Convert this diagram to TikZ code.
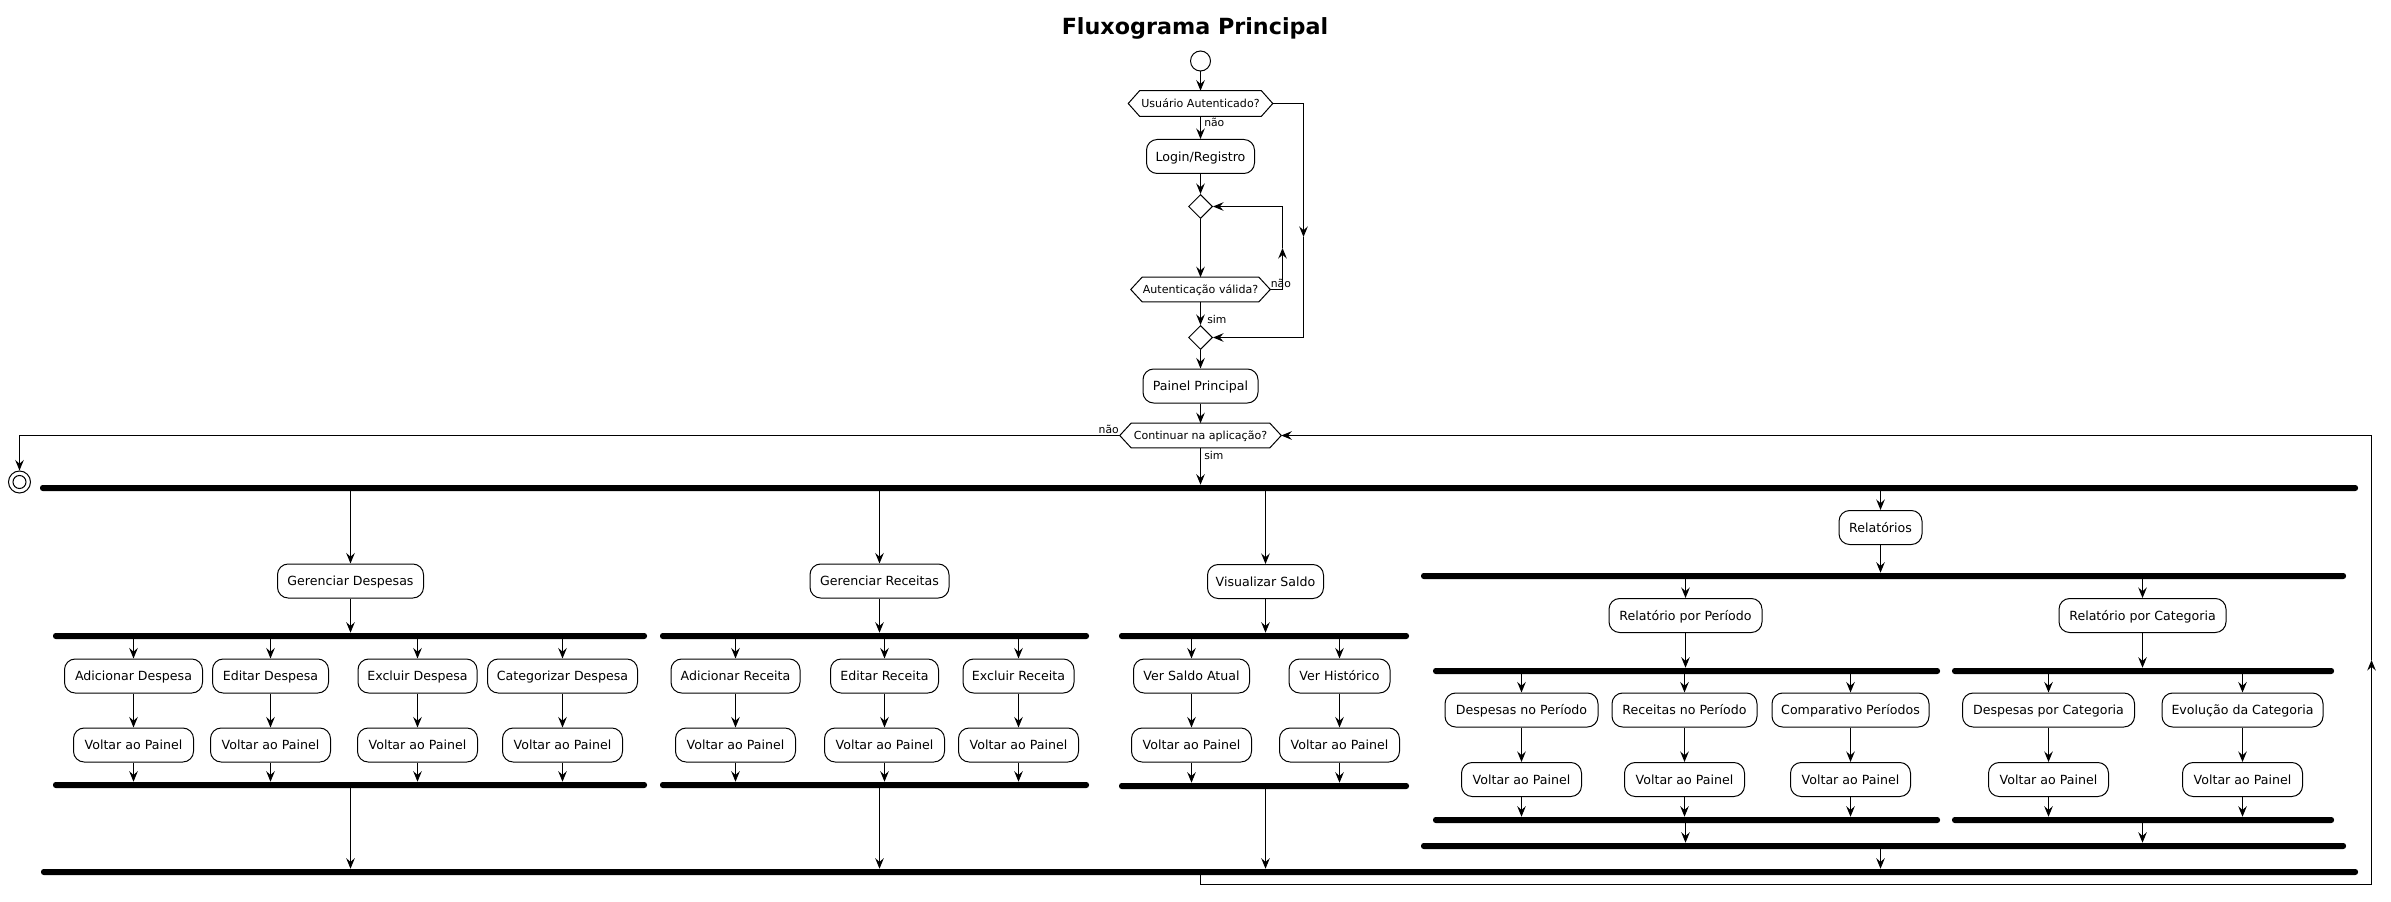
\documentclass[tikz,border=0pt]{standalone}
\usepackage{fontspec}
\setmainfont{DejaVu Sans}
\usetikzlibrary{arrows.meta,shapes.geometric}
\newcommand{\bs}{\rule[-3.1pt]{0pt}{13.1pt}}
\newcommand{\hs}{\rule[-2.97pt]{0pt}{12pt}}
\tikzset{
 ln/.style={line width=0.75pt},
 arr/.style={ln,-{Stealth[length=8pt,width=6.5pt,inset=3pt]}},
 box/.style={draw,ln,rounded corners=8pt,minimum height=25.5pt,inner sep=0pt,font=\fontsize{9.45pt}{11pt}\selectfont,execute at begin node=\bs},
 hexl/.style={inner sep=0pt,font=\fontsize{8.3pt}{10pt}\selectfont,execute at begin node=\hs},
 bar/.style={fill=black,rounded corners=2pt,minimum height=4.5pt,inner sep=0pt},
 lbl/.style={inner sep=0pt,font=\fontsize{8.1pt}{10pt}\selectfont},
 dia/.style={draw,ln,diamond,minimum width=18pt,minimum height=18pt,inner sep=0pt,aspect=1},
}
\newcommand{\hexnode}[5]{%
 \node[hexl,minimum width=#3,minimum height=#4] (#1) at (#2) {#5};
 \draw[ln] (#1.west) -- ([xshift=8.5pt]#1.north west) -- ([xshift=-8.5pt]#1.north east) -- (#1.east) -- ([xshift=-8.5pt]#1.south east) -- ([xshift=8.5pt]#1.south west) -- cycle;}
% name, x, y1, y2, width, text, fork, join
\newcommand{\child}[8]{%
 \node[box,minimum width=#5] (#1) at (#2,#3) {#6};
 \node[box,minimum width=90pt] (v#1) at (#2,#4) {Voltar ao Painel};
 \draw[arr] (#7.south -| #1.north) -- (#1.north);
 \draw[arr] (#1.south) -- (v#1.north);
 \draw[arr] (v#1.south) -- (v#1.south |- #8.north);}
\begin{document}
\begin{tikzpicture}[x=0.75pt,y=-0.75pt]
\useasboundingbox (0,0) rectangle (2391,902);
\node[font=\fontsize{16.7pt}{20pt}\selectfont\bfseries,inner sep=0pt,anchor=base] (title) at (1195,35) {Fluxograma Principal};
% main column
\node[draw,ln,circle,minimum size=15pt,inner sep=0pt] (st) at (1200.5,61) {};
\hexnode{ua}{1200.5,103.5}{108pt}{18.75pt}{Usuário Autenticado?}
\node[box,minimum width=81pt] (login) at (1200.5,156.5) {Login/Registro};
\node[dia] (d1) at (1200.5,206.5) {};
\hexnode{av}{1200.5,289.5}{104.25pt}{18pt}{Autenticação válida?}
\node[dia] (d2) at (1200.5,337.5) {};
\node[box,minimum width=86.25pt] (pp) at (1200.5,386) {Painel Principal};
\hexnode{ct}{1200.5,435.5}{120.75pt}{18pt}{Continuar na aplicação?}
\node[draw,ln,circle,minimum size=16.5pt,inner sep=0pt] (en) at (19.5,482) {};
\node[draw,ln,circle,minimum size=9.75pt,inner sep=0pt] (en2) at (19.5,482) {};
\draw[arr] (st.south) -- (ua.north);
\draw[arr] (ua.south) -- (login.north);
\node[lbl,anchor=base west] (l1) at (1204,126.5) {não};
\draw[arr] (login.south) -- (d1.north);
\draw[arr] (d1.south) -- (av.north);
\coordinate (avR) at (1282.5,289.5);
\coordinate (avM) at (1282.5,248);
\coordinate (d1R) at (1282.5,206.5);
\draw[arr] (av.east) -- (avR) -- (avM);
\draw[arr] (avM) -- (d1R) -- (d1.east);
\node[lbl,anchor=base west] (l2) at (1270.5,287.3) {não};
\draw[arr] (av.south) -- (d2.north);
\node[lbl,anchor=base west] (l3) at (1207,323) {sim};
\coordinate (uaR) at (1303.5,103.5);
\coordinate (uaM) at (1303.5,237);
\coordinate (d2R) at (1303.5,337.5);
\draw[arr] (ua.east) -- (uaR) -- (uaM);
\draw[arr] (uaM) -- (d2R) -- (d2.east);
\draw[arr] (d2.south) -- (pp.north);
\draw[arr] (pp.south) -- (ct.north);
\coordinate (ctL) at (19.5,435.5);
\draw[arr] (ct.west) -- (ctL) -- (en.north);
\node[lbl,anchor=base east] (l4) at (1119,433.3) {não};
% bars
\node[bar,minimum width=1738.5pt] (tb) at (1199,488) {};
\node[bar,minimum width=1737.75pt] (bb) at (1199.5,872) {};
\draw[arr] (ct.south) -- (ct.south |- tb.north);
\node[lbl,anchor=base west] (l5) at (1204,459) {sim};
% loop
\coordinate (lpA) at (1200.5,884.5);
\coordinate (lpB) at (2371.5,884.5);
\coordinate (lpM) at (2371.5,660);
\coordinate (lpC) at (2371.5,435.5);
\draw[arr] (bb.south -| ct.south) -- (lpA) -- (lpB) -- (lpM);
\draw[arr] (lpM) -- (lpC) -- (ct.east);
% Despesas
\node[box,minimum width=109.5pt] (gd) at (350.5,581) {Gerenciar Despesas};
\node[bar,minimum width=445.5pt] (dfk) at (350,636) {};
\node[bar,minimum width=445.5pt] (djn) at (350,785) {};
\draw[arr] (tb.south -| gd.north) -- (gd.north);
\draw[arr] (gd.south) -- (gd.south |- dfk.north);
\child{ad}{133.5}{676}{745}{103.5pt}{Adicionar Despesa}{dfk}{djn}
\child{ed}{270.5}{676}{745}{87pt}{Editar Despesa}{dfk}{djn}
\child{xd}{417.5}{676}{745}{89.25pt}{Excluir Despesa}{dfk}{djn}
\child{cd}{562.5}{676}{745}{112.5pt}{Categorizar Despesa}{dfk}{djn}
\draw[arr] (djn.south -| gd.south) -- (gd.south |- bb.north);
% Receitas
\node[box,minimum width=104.25pt] (gr) at (879.5,581) {Gerenciar Receitas};
\node[bar,minimum width=321.75pt] (rfk) at (874.5,636) {};
\node[bar,minimum width=321.75pt] (rjn) at (874.5,785) {};
\draw[arr] (tb.south -| gr.north) -- (gr.north);
\draw[arr] (gr.south) -- (gr.south |- rfk.north);
\child{ar}{735.5}{676}{745}{96.75pt}{Adicionar Receita}{rfk}{rjn}
\child{er}{884.5}{676}{745}{81pt}{Editar Receita}{rfk}{rjn}
\child{xr}{1018.5}{676}{745}{83.25pt}{Excluir Receita}{rfk}{rjn}
\draw[arr] (rjn.south -| gr.south) -- (gr.south |- bb.north);
% Saldo
\node[box,minimum width=87pt] (vs) at (1265.5,581.5) {Visualizar Saldo};
\node[bar,minimum width=217.5pt] (sfk) at (1264,636) {};
\node[bar,minimum width=217.5pt] (sjn) at (1264,786) {};
\draw[arr] (tb.south -| vs.north) -- (vs.north);
\draw[arr] (vs.south) -- (vs.south |- sfk.north);
\child{vsa}{1191.5}{676}{745}{87pt}{Ver Saldo Atual}{sfk}{sjn}
\child{vh}{1339.5}{676}{745}{75.75pt}{Ver Histórico}{sfk}{sjn}
\draw[arr] (sjn.south -| vs.south) -- (vs.south |- bb.north);
% Relatorios
\node[box,minimum width=62.25pt] (rel) at (1880.5,527.5) {Relatórios};
\node[bar,minimum width=693.75pt] (lfk) at (1883.5,576) {};
\node[bar,minimum width=693.75pt] (ljn) at (1883.5,846) {};
\draw[arr] (tb.south -| rel.north) -- (rel.north);
\draw[arr] (rel.south) -- (rel.south |- lfk.north);
\node[box,minimum width=114.75pt] (rp) at (1685.5,615.5) {Relatório por Período};
\node[box,minimum width=125.25pt] (rc) at (2142.5,615.5) {Relatório por Categoria};
\draw[arr] (lfk.south -| rp.north) -- (rp.north);
\draw[arr] (lfk.south -| rc.north) -- (rc.north);
\node[bar,minimum width=380.25pt] (pfk) at (1686.5,671) {};
\node[bar,minimum width=380.25pt] (pjn) at (1686.5,820) {};
\node[bar,minimum width=286.5pt] (cfk) at (2143,671) {};
\node[bar,minimum width=286.5pt] (cjn) at (2143,820) {};
\draw[arr] (rp.south) -- (rp.south |- pfk.north);
\draw[arr] (rc.south) -- (rc.south |- cfk.north);
\child{dp}{1521.5}{710}{779.5}{114.75pt}{Despesas no Período}{pfk}{pjn}
\child{rnp}{1684.5}{710}{779.5}{108.75pt}{Receitas no Período}{pfk}{pjn}
\child{cp}{1850.5}{710}{779.5}{117.75pt}{Comparativo Períodos}{pfk}{pjn}
\child{dc}{2048.5}{710}{779.5}{129pt}{Despesas por Categoria}{cfk}{cjn}
\child{ec}{2242.5}{710}{779.5}{120.75pt}{Evolução da Categoria}{cfk}{cjn}
\draw[arr] (pjn.south -| rp.south) -- (rp.south |- ljn.north);
\draw[arr] (cjn.south -| rc.south) -- (rc.south |- ljn.north);
\draw[arr] (ljn.south -| rel.south) -- (rel.south |- bb.north);
\end{tikzpicture}
\end{document}
